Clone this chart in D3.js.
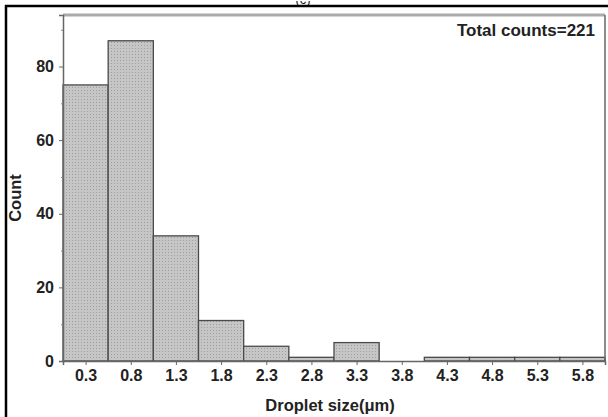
<!DOCTYPE html>
<html><head><meta charset="utf-8">
<script src="https://cdn.jsdelivr.net/npm/d3@7"></script>
<style>body{margin:0;background:#fff}svg{display:block}text{font-family:Arial,"Liberation Sans",sans-serif;font-weight:bold;fill:#222}</style>
</head><body><svg id="c" width="608" height="417"></svg>
<script>
const categories = ["0.3","0.8","1.3","1.8","2.3","2.8","3.3","3.8","4.3","4.8","5.3","5.8"];
const binCenters = [0.3,0.8,1.3,1.8,2.3,2.8,3.3,3.8,4.3,4.8,5.3,5.8];
const counts = [75,87,34,11,4,1,5,0,1,1,1,1];
const yTicks = [0,20,40,60,80];
const yMinorTicks = [10,30,50,70,90];
const binWidth = 0.5;

const svg = d3.select("#c");
const L=63, R=605, T=15, B=361;
const x = d3.scaleLinear().domain([0.05,6.05]).range([L,R]);
const y = d3.scaleLinear().domain([0,94]).range([B,T]);

const defs = svg.append("defs");
const pat = defs.append("pattern").attr("id","dots").attr("width",3).attr("height",3).attr("patternUnits","userSpaceOnUse");
pat.append("rect").attr("width",3).attr("height",3).attr("fill","#c6c6c6");
pat.append("rect").attr("width",1).attr("height",1).attr("fill","#9e9e9e");

// partial "(c)" above the frame
svg.append("text").attr("x",303).attr("y",4).attr("text-anchor","middle").style("font-weight","normal").style("font-size","13px").attr("fill","#222").text("(c)");
svg.append("rect").attr("x",0).attr("y",0).attr("width",608).attr("height",1).attr("fill","#fff");
// outer black frame
svg.append("line").attr("x1",5).attr("x2",608).attr("y1",6).attr("y2",6).attr("stroke","#000").attr("stroke-width",2.5);
svg.append("line").attr("x1",6).attr("x2",6).attr("y1",5).attr("y2",417).attr("stroke","#000").attr("stroke-width",2.5);

// bars
svg.append("g").selectAll("rect").data(counts).join("rect")
  .attr("x",(d,i)=>x(binCenters[i]-binWidth/2))
  .attr("width",(d,i)=>x(binCenters[i]+binWidth/2)-x(binCenters[i]-binWidth/2))
  .attr("y",d=>y(d)).attr("height",d=>B-y(d))
  .attr("fill","url(#dots)").attr("stroke","#4a4a4a").attr("stroke-width",1.3);

// frame spines
svg.append("line").attr("x1",L).attr("x2",R).attr("y1",T).attr("y2",T).attr("stroke","#aaa").attr("stroke-width",3);
svg.append("line").attr("x1",R).attr("x2",R).attr("y1",T).attr("y2",B).attr("stroke","#666").attr("stroke-width",1.5);

// axes
const yAxis = svg.append("g").attr("transform",`translate(${L},0)`)
  .call(d3.axisLeft(y).tickValues(yTicks).tickSize(4).tickPadding(5).tickFormat(d3.format("d")));
yAxis.select(".domain").attr("stroke","#666").attr("stroke-width",1.5);
yAxis.selectAll(".tick line").attr("stroke","#666");
yAxis.selectAll("text").style("font-size","16px").attr("fill","#222");
svg.append("g").attr("transform",`translate(${L},0)`)
  .call(d3.axisLeft(y).tickValues(yMinorTicks).tickSize(2).tickFormat(""))
  .call(g=>g.select(".domain").remove()).selectAll("line").attr("stroke","#888");

const xAxis = svg.append("g").attr("transform",`translate(0,${B})`)
  .call(d3.axisBottom(x).tickValues(binCenters).tickSize(4).tickPadding(5).tickFormat((d,i)=>categories[i]));
xAxis.select(".domain").attr("stroke","#666").attr("stroke-width",1.5);
xAxis.selectAll(".tick line").attr("stroke","#666");
xAxis.selectAll("text").style("font-size","16px").attr("fill","#222");

// labels
svg.append("text").attr("x",330).attr("y",411).attr("text-anchor","middle").style("font-size","16.5px").text("Droplet size(μm)");
svg.append("text").attr("transform","translate(21,198) rotate(-90)").attr("text-anchor","middle").style("font-size","16.5px").text("Count");
svg.append("text").attr("x",595).attr("y",36).attr("text-anchor","end").style("font-size","17px").text("Total counts=221");
</script></body></html>
